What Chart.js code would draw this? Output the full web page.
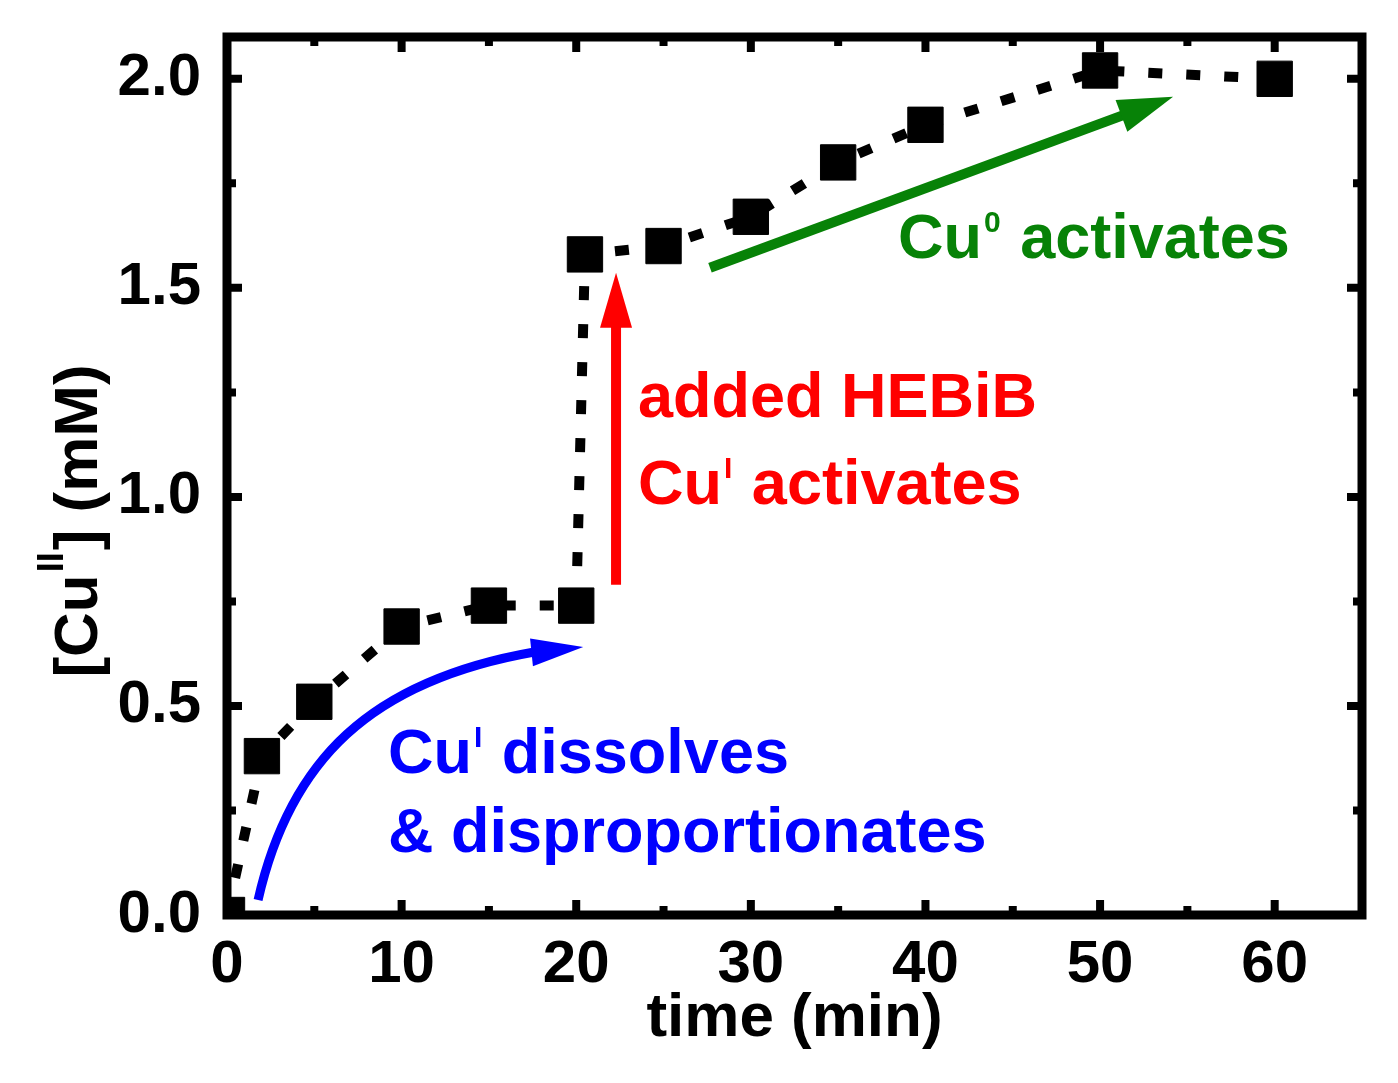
<!DOCTYPE html>
<html>
<head>
<meta charset="utf-8">
<script src="https://cdn.jsdelivr.net/npm/chart.js@4.4.1/dist/chart.umd.min.js"></script>
<style>
html, body { margin: 0; padding: 0; background: #fff; }
</style>
</head>
<body>
<canvas id="myChart" width="1398" height="1083"></canvas>
<script>
// data
const times = [0, 2, 5, 10, 15, 20, 20.5, 25, 30, 35, 40, 50, 60];
const cuII = [0.0, 0.38, 0.51, 0.69, 0.74, 0.74, 1.58, 1.60, 1.67, 1.80, 1.89, 2.02, 2.00];
const xTicks = [0, 10, 20, 30, 40, 50, 60];
const yTicks = [0.0, 0.5, 1.0, 1.5, 2.0];

const FONT = "'Liberation Sans', Arial, sans-serif";

// annotation arrows, in data units
const blueCurve = [[1.78, 0.036], [3.6, 0.37], [8.2, 0.56], [17.6, 0.629], [20.4, 0.641]];
const redArrow = [[22.28, 0.79], [22.28, 1.536]];
const greenArrow = [[27.66, 1.548], [54.18, 1.957]];

// annotation texts: [x, y baseline] in data units, parts with superscripts
const notes = [
  { color: '#0000ff', at: [9.22, 0.34], parts: [['Cu'], ['I', 1], [' dissolves']] },
  { color: '#0000ff', at: [9.22, 0.151], parts: [['& disproportionates']] },
  { color: '#ff0000', at: [23.54, 1.19], parts: [['added HEBiB']] },
  { color: '#ff0000', at: [23.54, 0.983], parts: [['Cu'], ['I', 1], [' activates']] },
  { color: '#078207', at: [38.43, 1.572], parts: [['Cu'], ['0', 1], [' activates']] }
];

function drawParts(ctx, parts, x, y, size, supSize, rise) {
  let cx = x;
  for (const p of parts) {
    if (p[1]) {
      ctx.font = 'bold ' + supSize + 'px ' + FONT;
      ctx.fillText(p[0], cx + 2, y - rise);
      cx += ctx.measureText(p[0]).width + 4;
    } else {
      ctx.font = 'bold ' + size + 'px ' + FONT;
      ctx.fillText(p[0], cx, y);
      cx += ctx.measureText(p[0]).width;
    }
  }
  return cx - x;
}

function arrowHead(ctx, tx, ty, ang, len, half) {
  ctx.beginPath();
  ctx.moveTo(tx, ty);
  ctx.lineTo(tx - len * Math.cos(ang) + half * Math.sin(ang), ty - len * Math.sin(ang) - half * Math.cos(ang));
  ctx.lineTo(tx - len * Math.cos(ang) - half * Math.sin(ang), ty - len * Math.sin(ang) + half * Math.cos(ang));
  ctx.closePath();
  ctx.fill();
}

const extras = {
  id: 'extras',
  afterDatasetsDraw(chart) {
    const { ctx, chartArea: a, scales: { x, y } } = chart;
    const px = p => [x.getPixelForValue(p[0]), y.getPixelForValue(p[1])];
    ctx.save();
    ctx.lineCap = 'butt';

    // blue curved arrow
    const b = blueCurve.map(px);
    ctx.strokeStyle = '#0000ff'; ctx.fillStyle = '#0000ff'; ctx.lineWidth = 9;
    ctx.beginPath();
    ctx.moveTo(b[0][0], b[0][1]);
    ctx.bezierCurveTo(b[1][0], b[1][1], b[2][0], b[2][1], b[3][0], b[3][1]);
    ctx.stroke();
    arrowHead(ctx, b[4][0], b[4][1], Math.atan2(b[4][1] - b[3][1], b[4][0] - b[3][0]), 52, 14);

    // red arrow
    const r = redArrow.map(px);
    ctx.strokeStyle = '#ff0000'; ctx.fillStyle = '#ff0000'; ctx.lineWidth = 10;
    ctx.beginPath(); ctx.moveTo(r[0][0], r[0][1]); ctx.lineTo(r[1][0], r[1][1] + 40); ctx.stroke();
    arrowHead(ctx, r[1][0], r[1][1], -Math.PI / 2, 55, 16);

    // green arrow
    const g = greenArrow.map(px);
    const ga = Math.atan2(g[1][1] - g[0][1], g[1][0] - g[0][0]);
    ctx.strokeStyle = '#078207'; ctx.fillStyle = '#078207'; ctx.lineWidth = 10;
    ctx.beginPath(); ctx.moveTo(g[0][0], g[0][1]);
    ctx.lineTo(g[1][0] - 40 * Math.cos(ga), g[1][1] - 40 * Math.sin(ga)); ctx.stroke();
    arrowHead(ctx, g[1][0], g[1][1], ga, 55, 17);

    // texts
    ctx.textBaseline = 'alphabetic'; ctx.textAlign = 'left';
    for (const n of notes) {
      ctx.fillStyle = n.color;
      const p = px(n.at);
      drawParts(ctx, n.parts, p[0], p[1], 63, 30, 26);
    }

    // frame with inward ticks on all four sides
    ctx.strokeStyle = '#000'; ctx.lineWidth = 8;
    ctx.beginPath();
    for (let v = 0; v <= 65; v += 5) {
      const X = x.getPixelForValue(v);
      const len = v % 10 === 0 ? 15 : 9;
      ctx.moveTo(X, a.bottom); ctx.lineTo(X, a.bottom - len);
      ctx.moveTo(X, a.top); ctx.lineTo(X, a.top + len);
    }
    for (let i = 0; i <= 8; i++) {
      const Y = y.getPixelForValue(i * 0.25);
      const len = i % 2 === 0 ? 15 : 9;
      ctx.moveTo(a.left, Y); ctx.lineTo(a.left + len, Y);
      ctx.moveTo(a.right, Y); ctx.lineTo(a.right - len, Y);
    }
    ctx.stroke();
    ctx.lineWidth = 9;
    ctx.strokeRect(a.left, a.top, a.right - a.left, a.bottom - a.top);

    // axis titles
    ctx.fillStyle = '#000';
    ctx.font = 'bold 62px ' + FONT;
    ctx.textAlign = 'center';
    ctx.fillText('time (min)', (a.left + a.right) / 2, 1036);

    ctx.translate(97, 521);
    ctx.rotate(-Math.PI / 2);
    ctx.textAlign = 'left';
    const yParts = [['[Cu'], ['II', 1], ['] (mM)']];
    ctx.globalAlpha = 0;
    const w = drawParts(ctx, yParts, 0, 0, 62, 36, 34);
    ctx.globalAlpha = 1;
    drawParts(ctx, yParts, -w / 2, 0, 62, 36, 34);
    ctx.restore();
  }
};

const ctx = document.getElementById('myChart');

new Chart(ctx, {
  type: 'line',
  data: {
    datasets: [{
      data: times.map((t, i) => ({ x: t, y: cuII[i] })),
      borderColor: '#000',
      borderWidth: 10,
      borderDash: [14, 24],
      borderCapStyle: 'butt',
      pointStyle: 'rect',
      pointRadius: 25,
      pointBackgroundColor: '#000',
      pointBorderColor: '#000',
      pointBorderWidth: 1,
      tension: 0,
      clip: 0
    }]
  },
  options: {
    responsive: false,
    animation: false,
    events: [],
    layout: { padding: { left: 0, top: 37, right: 36, bottom: 0 } },
    plugins: { legend: { display: false }, tooltip: { enabled: false } },
    scales: {
      x: {
        type: 'linear', min: 0, max: 65,
        afterFit: s => { s.height = 1083 - 915; s.paddingLeft = 0; s.paddingRight = 0; },
        afterBuildTicks: s => { s.ticks = xTicks.map(v => ({ value: v })); },
        grid: { display: false },
        border: { display: false },
        ticks: { color: '#000', padding: 6, maxRotation: 0, font: { family: FONT, weight: 'bold', size: 60 } }
      },
      y: {
        type: 'linear', min: 0, max: 2.1,
        afterFit: s => { s.width = 227; s.paddingTop = 0; s.paddingBottom = 0; },
        afterBuildTicks: s => { s.ticks = yTicks.map(v => ({ value: v })); },
        grid: { display: false },
        border: { display: false },
        ticks: { color: '#000', padding: 18, callback: v => v.toFixed(1), font: { family: FONT, weight: 'bold', size: 60 } }
      }
    }
  },
  plugins: [extras]
});
</script>
</body>
</html>
